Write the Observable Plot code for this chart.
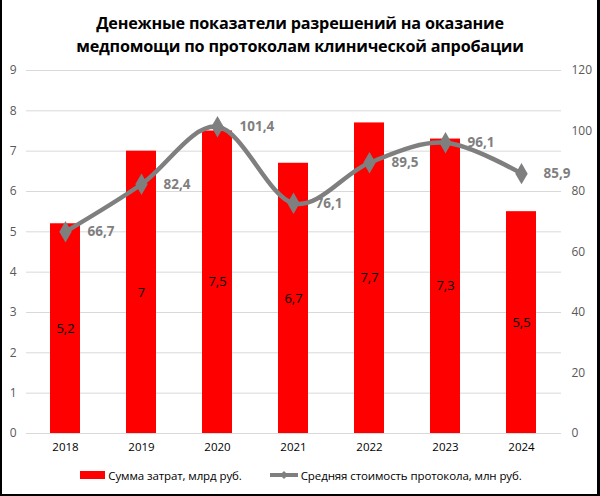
<!DOCTYPE html>
<html><head><meta charset="utf-8">
<script src="https://cdn.jsdelivr.net/npm/d3@7"></script>
<script src="https://cdn.jsdelivr.net/npm/@observablehq/plot@0.6"></script>
<style>
html,body{margin:0;padding:0;background:#fff}
#frame{position:relative;width:600px;height:496px;overflow:hidden;font-family:"Open Sans",sans-serif;background:#fff}
#title{height:60px;box-sizing:border-box;padding-top:12px;text-align:center;font-weight:bold;font-size:16.2px;line-height:23px;color:#000;letter-spacing:-0.2px}
#legend{display:flex;justify-content:center;align-items:center;gap:28px;height:30px;font-size:11.5px;color:#000;margin-left:2px;letter-spacing:-0.1px}
.item{display:flex;align-items:center;gap:3px}
.sw{width:25px;height:8px;background:#ff0000}
#border{position:absolute;left:0;top:0;width:600px;height:496px;box-sizing:border-box;border-left:2px solid #000;border-right:3px solid #000;border-bottom:2px solid #000;pointer-events:none}
</style></head>
<body>
<div id="frame">
<div id="title">Денежные показатели разрешений на оказание<br>медпомощи по протоколам клинической апробации</div>
<div id="chart"></div>
<div id="legend">
<div class="item"><div class="sw"></div><span>Сумма затрат, млрд руб.</span></div>
<div class="item"><svg width="28" height="10"><line x1="0" y1="5" x2="28" y2="5" stroke="#7f7f7f" stroke-width="4"/><path d="M14,1 L18,5 L14,9 L10,5 Z" fill="#7f7f7f"/></svg><span>Средняя стоимость протокола, млн руб.</span></div>
</div>
<div id="border"></div>
</div>
<script>
const years = ["2018","2019","2020","2021","2022","2023","2024"];
const costs = [5.2, 7, 7.5, 6.7, 7.7, 7.3, 5.5];
const avgCost = [66.7, 82.4, 101.4, 76.1, 89.5, 96.1, 85.9];
const leftTicks = [0,1,2,3,4,5,6,7,8,9];
const rightTicks = [0,20,40,60,80,100,120];

const k = 9/120;
const fmt = v => String(v).replace(".", ",");
const data = years.map((y,i)=>({year:y, cost:costs[i], avg:avgCost[i]}));

const chart = Plot.plot({
  width: 600,
  height: 400,
  marginTop: 10,
  marginBottom: 27,
  marginLeft: 26,
  marginRight: 39,
  style: {fontFamily: '"Open Sans", sans-serif', background: "transparent"},
  x: {domain: years, paddingInner: 0.6, paddingOuter: 0.3},
  y: {domain: [0, 9]},
  marks: [
    Plot.gridY(leftTicks, {stroke: "#d9d9d9", strokeOpacity: 1, strokeWidth: 1}),
    Plot.axisY(leftTicks, {anchor: "left", tickSize: 0, tickPadding: 10, fill: "#595959", fontSize: 12, label: null}),
    Plot.axisY(rightTicks.map(t => t*k), {anchor: "right", tickSize: 0, tickPadding: 10, fill: "#595959", fontSize: 12, label: null, tickFormat: d => String(Math.round(d/k))}),
    Plot.axisX({tickSize: 0, tickPadding: 9, fill: "#000", fontSize: 11.5, label: null}),
    Plot.barY(data, {x: "year", y: "cost", fill: "#ff0000"}),
    Plot.text(data, {x: "year", y: d => d.cost/2, text: d => fmt(d.cost), fill: "#000", stroke: "none", fontSize: 13}),
    Plot.line(data, {x: "year", y: d => d.avg*k, stroke: "#7f7f7f", strokeWidth: 4.5, curve: "cardinal"}),
    Plot.dot(data, {x: "year", y: d => d.avg*k, symbol: "diamond", r: 6.5, fill: "#7f7f7f"}),
    Plot.text(data, {x: "year", y: d => d.avg*k, text: d => fmt(d.avg), dx: 22, textAnchor: "start", fill: "#7f7f7f", stroke: "none", fontWeight: "bold", fontSize: 13.5})
  ]
});
document.getElementById("chart").appendChild(chart);
</script>
</body></html>
